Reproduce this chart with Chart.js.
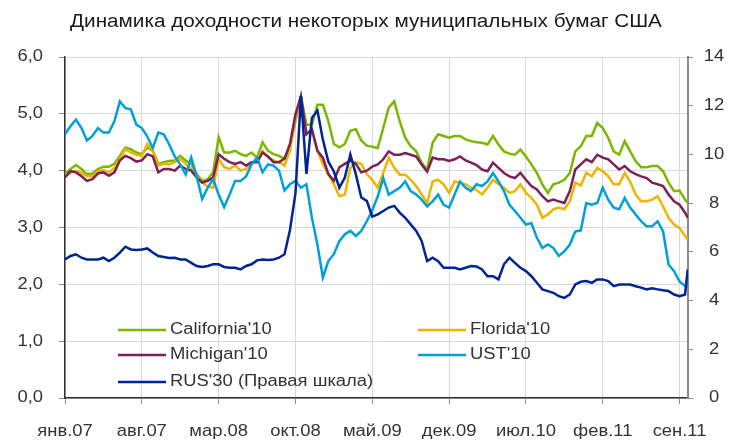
<!DOCTYPE html>
<html>
<head>
<meta charset="utf-8">
<script src="https://cdn.jsdelivr.net/npm/chart.js@4.4.0/dist/chart.umd.min.js"></script>
<style>
    html, body { margin: 0; padding: 0; background: #fff; }
    #wrap { width: 747px; height: 444px; position: relative; }
</style>
</head>
<body>
<div id="wrap"><canvas id="yieldChart"></canvas></div>
<script>
// months since 1 Jan 2007 (roughly two readings per month)
var months = [
    0, 0.5, 1, 1.5, 2, 2.5, 3, 3.5, 4, 4.5,
    5, 5.5, 6, 6.5, 7, 7.5, 8, 8.5, 9, 9.5,
    10, 10.5, 11, 11.5, 12, 12.5, 13, 13.5, 14, 14.5,
    15, 15.5, 16, 16.5, 17, 17.5, 18, 18.5, 19, 19.5,
    20, 20.5, 21, 21.5, 22, 22.5, 23, 23.5, 24, 24.5,
    25, 25.5, 26, 26.5, 27, 27.5, 28, 28.5, 29, 29.5,
    30, 30.5, 31, 31.5, 32, 32.5, 33, 33.5, 34, 34.5,
    35, 35.5, 36, 36.5, 37, 37.5, 38, 38.5, 39, 39.5,
    40, 40.5, 41, 41.5, 42, 42.5, 43, 43.5, 44, 44.5,
    45, 45.5, 46, 46.5, 47, 47.5, 48, 48.5, 49, 49.5,
    50, 50.5, 51, 51.5, 52, 52.5, 53, 53.5, 54, 54.5,
    55, 55.5, 56, 56.5, 56.75
];

var tickMonths = [0, 7, 14, 21, 28, 35, 42, 49, 56];
var tickLabels = ["янв.07", "авг.07", "мар.08", "окт.08", "май.09", "дек.09", "июл.10", "фев.11", "сен.11"];
var leftTicks = [0, 1, 2, 3, 4, 5, 6];
var rightTicks = [0, 2, 4, 6, 8, 10, 12, 14];

var california10 = [
    3.95, 4.03, 4.10, 4.03, 3.94, 3.95, 4.03, 4.07, 4.07, 4.12,
    4.26, 4.41, 4.38, 4.32, 4.29, 4.41, 4.35, 4.12, 4.15, 4.17,
    4.18, 4.26, 4.18, 4.12, 3.94, 3.82, 3.85, 3.97, 4.59, 4.32,
    4.32, 4.35, 4.29, 4.26, 4.32, 4.23, 4.50, 4.35, 4.29, 4.26,
    4.21, 4.41, 4.87, 5.31, 4.81, 4.81, 5.16, 5.16, 4.87, 4.47,
    4.41, 4.47, 4.70, 4.73, 4.53, 4.44, 4.42, 4.40, 4.75, 5.11,
    5.22, 4.87, 4.58, 4.43, 4.34, 4.14, 4.02, 4.49, 4.64, 4.61,
    4.58, 4.61, 4.61, 4.55, 4.52, 4.50, 4.49, 4.46, 4.61, 4.46,
    4.34, 4.30, 4.28, 4.37, 4.25, 4.11, 3.96, 3.76, 3.61, 3.76,
    3.79, 3.84, 3.96, 4.34, 4.43, 4.61, 4.61, 4.84, 4.75, 4.58,
    4.34, 4.28, 4.52, 4.34, 4.17, 4.06, 4.06, 4.08, 4.08, 3.99,
    3.79, 3.64, 3.65, 3.49, 3.43
];

var florida10 = [
    3.91, 3.96, 4.00, 3.96, 3.90, 3.90, 3.99, 4.01, 3.97, 4.05,
    4.20, 4.38, 4.32, 4.28, 4.26, 4.47, 4.35, 4.09, 4.12, 4.11,
    4.15, 4.21, 4.12, 4.03, 3.91, 3.79, 3.72, 3.70, 4.21, 4.06,
    4.03, 4.09, 4.00, 4.03, 4.12, 4.21, 4.35, 4.23, 4.18, 4.15,
    4.09, 4.35, 4.93, 5.22, 4.64, 4.70, 4.35, 4.12, 3.94, 3.76,
    3.55, 3.58, 4.05, 4.15, 4.12, 3.94, 3.84, 3.70, 3.96, 4.23,
    4.05, 3.93, 3.93, 3.84, 3.73, 3.58, 3.43, 3.81, 3.84, 3.76,
    3.61, 3.81, 3.79, 3.76, 3.70, 3.66, 3.58, 3.70, 3.84, 3.76,
    3.70, 3.61, 3.64, 3.76, 3.61, 3.52, 3.40, 3.17, 3.23, 3.32,
    3.35, 3.32, 3.46, 3.79, 3.74, 3.96, 3.90, 4.05, 3.99, 3.90,
    3.76, 3.76, 3.96, 3.81, 3.58, 3.46, 3.46, 3.49, 3.55, 3.37,
    3.17, 3.05, 2.99, 2.85, 2.79
];

var michigan10 = [
    3.88, 3.99, 3.97, 3.90, 3.82, 3.85, 3.95, 3.97, 3.91, 3.97,
    4.18, 4.26, 4.22, 4.16, 4.18, 4.29, 4.25, 3.97, 4.03, 4.03,
    4.00, 4.09, 4.03, 4.00, 3.88, 3.79, 3.82, 3.88, 4.29, 4.21,
    4.15, 4.12, 4.15, 4.09, 4.15, 4.15, 4.32, 4.25, 4.15, 4.15,
    4.21, 4.47, 4.99, 5.31, 4.64, 4.73, 4.35, 4.23, 3.94, 3.82,
    4.06, 4.12, 4.18, 4.12, 3.97, 4.00, 4.07, 4.11, 4.20, 4.34,
    4.28, 4.28, 4.31, 4.28, 4.25, 4.11, 3.98, 4.23, 4.20, 4.20,
    4.17, 4.20, 4.25, 4.18, 4.14, 4.10, 4.02, 3.99, 4.14, 4.05,
    3.96, 3.90, 3.87, 3.96, 3.84, 3.73, 3.67, 3.55, 3.46, 3.49,
    3.46, 3.43, 3.64, 4.02, 4.11, 4.20, 4.15, 4.28, 4.23, 4.20,
    4.11, 4.02, 4.08, 3.99, 3.94, 3.90, 3.87, 3.79, 3.76, 3.73,
    3.58, 3.46, 3.40, 3.26, 3.17
];

var ust10 = [
    4.64, 4.78, 4.90, 4.75, 4.53, 4.61, 4.75, 4.67, 4.67, 4.87,
    5.22, 5.10, 5.08, 4.81, 4.75, 4.60, 4.40, 4.67, 4.64, 4.46,
    4.25, 4.11, 3.93, 4.23, 3.90, 3.50, 3.70, 3.85, 3.58, 3.36,
    3.58, 3.82, 3.82, 3.90, 4.11, 4.23, 3.97, 4.11, 4.09, 4.00,
    3.65, 3.76, 3.82, 3.70, 3.76, 3.17, 2.70, 2.12, 2.41, 2.53,
    2.76, 2.88, 2.94, 2.85, 2.94, 3.11, 3.30, 3.55, 3.87, 3.58,
    3.64, 3.70, 3.81, 3.64, 3.58, 3.49, 3.37, 3.46, 3.58, 3.40,
    3.35, 3.58, 3.81, 3.70, 3.64, 3.76, 3.73, 3.81, 3.96, 3.81,
    3.64, 3.40, 3.29, 3.17, 3.05, 3.08, 2.82, 2.64, 2.70, 2.64,
    2.50, 2.58, 2.70, 2.93, 2.95, 3.43, 3.40, 3.43, 3.70, 3.49,
    3.35, 3.32, 3.52, 3.35, 3.23, 3.11, 3.02, 3.02, 3.11, 2.93,
    2.35, 2.23, 2.05, 1.97, 1.95
];

// right-hand scale
var rus30 = [
    5.69, 5.83, 5.90, 5.76, 5.69, 5.69, 5.69, 5.76, 5.62, 5.76,
    5.97, 6.21, 6.10, 6.08, 6.10, 6.14, 5.97, 5.83, 5.79, 5.75,
    5.76, 5.69, 5.69, 5.55, 5.42, 5.38, 5.42, 5.49, 5.49, 5.38,
    5.35, 5.35, 5.28, 5.42, 5.49, 5.65, 5.69, 5.67, 5.69, 5.76,
    5.90, 6.90, 8.40, 12.40, 9.20, 11.50, 11.80, 10.60, 9.70, 9.30,
    8.64, 9.05, 10.00, 9.19, 8.23, 8.09, 7.45, 7.54, 7.68, 7.82,
    7.89, 7.61, 7.40, 7.13, 6.86, 6.45, 5.62, 5.76, 5.62, 5.35,
    5.35, 5.35, 5.28, 5.35, 5.42, 5.40, 5.28, 5.00, 5.00, 4.87,
    5.49, 5.76, 5.55, 5.35, 5.21, 5.00, 4.73, 4.46, 4.39, 4.32,
    4.18, 4.11, 4.25, 4.66, 4.77, 4.80, 4.73, 4.87, 4.87, 4.80,
    4.59, 4.66, 4.66, 4.66, 4.59, 4.53, 4.46, 4.50, 4.46, 4.42,
    4.39, 4.25, 4.18, 4.25, 5.28
];

var FONT = "'Liberation Sans', Arial, sans-serif";
var TEXT = "#333333";

function toPoints(values) {
    return values.map(function (v, i) {
        return { x: months[i], y: v };
    });
}

function series(label, values, color, axis, order) {
    return {
        label: label,
        data: toPoints(values),
        borderColor: color,
        backgroundColor: color,
        borderWidth: 2.5,
        pointRadius: 0,
        tension: 0,
        yAxisID: axis,
        order: order
    };
}

// the original picture has slightly wide lettering, so text is drawn stretched
function wideText(ctx, text, x, y, align, size, sx, color) {
    ctx.save();
    ctx.translate(x, y);
    ctx.scale(sx, 1);
    ctx.font = size + "px " + FONT;
    ctx.fillStyle = color || TEXT;
    ctx.textAlign = align;
    ctx.textBaseline = "middle";
    ctx.fillText(text, 0, 0);
    ctx.restore();
}

var labelPlugin = {
    id: "axisLabels",
    afterDraw: function (chart) {
        var ctx = chart.ctx;
        var sx = chart.scales.x, sy = chart.scales.y, sy2 = chart.scales.y2;
        tickMonths.forEach(function (m, i) {
            wideText(ctx, tickLabels[i], sx.getPixelForValue(m), 432, "center", 16, 1.15);
        });
        leftTicks.forEach(function (v) {
            wideText(ctx, v.toFixed(1).replace(".", ","), 43, sy.getPixelForValue(v), "right", 16, 1.15);
        });
        rightTicks.forEach(function (v) {
            wideText(ctx, String(v), 714, sy2.getPixelForValue(v), "center", 16, 1.15);
        });
        wideText(ctx, "Динамика доходности некоторых муниципальных бумаг США", 366, 22, "center", 18, 1.15, "#1a1a1a");
    }
};

// legend drawn inside the plot, two columns like the original
var legendPlugin = {
    id: "innerLegend",
    afterDraw: function (chart) {
        var ctx = chart.ctx;
        var spots = {
            "California'10": [118, 330],
            "Florida'10": [418, 330],
            "Michigan'10": [118, 355],
            "UST'10": [418, 355],
            "RUS'30 (Правая шкала)": [118, 382]
        };
        chart.data.datasets.forEach(function (ds) {
            var p = spots[ds.label];
            ctx.save();
            ctx.strokeStyle = ds.borderColor;
            ctx.lineWidth = 2.5;
            ctx.beginPath();
            ctx.moveTo(p[0], p[1]);
            ctx.lineTo(p[0] + 48, p[1]);
            ctx.stroke();
            ctx.restore();
            wideText(ctx, ds.label, p[0] + 52, p[1], "left", 16, 1.15);
        });
    }
};

var ctx = document.getElementById("yieldChart");
new Chart(ctx, {
    type: "line",
    data: {
        datasets: [
            series("California'10", california10, "#7ab800", "y", 4),
            series("Florida'10", florida10, "#f0b400", "y", 3),
            series("Michigan'10", michigan10, "#7b2059", "y", 2),
            series("UST'10", ust10, "#00a0dc", "y", 1),
            series("RUS'30 (Правая шкала)", rus30, "#002395", "y2", 0)
        ]
    },
    options: {
        responsive: true,
        maintainAspectRatio: false,
        animation: false,
        layout: { padding: { top: 57, left: 0, right: 0, bottom: 0 } },
        plugins: {
            legend: { display: false },
            tooltip: { enabled: false }
        },
        scales: {
            x: {
                type: "linear",
                min: 0,
                max: 56.77,
                afterBuildTicks: function (scale) {
                    scale.ticks = tickMonths.map(function (m) { return { value: m }; });
                },
                afterFit: function (scale) { scale.height = 46; },
                ticks: { display: false },
                grid: { color: "#d9d9d9", tickLength: 6, tickColor: "#8c8c8c" },
                border: { color: "#333333", width: 1.5 }
            },
            y: {
                position: "left",
                min: 0,
                max: 6,
                afterBuildTicks: function (scale) {
                    scale.ticks = leftTicks.map(function (v) { return { value: v }; });
                },
                afterFit: function (scale) { scale.width = 65; },
                ticks: { display: false },
                grid: { color: "#d9d9d9", tickLength: 6, tickColor: "#8c8c8c" },
                border: { color: "#333333", width: 1.5 }
            },
            y2: {
                position: "right",
                min: 0,
                max: 14,
                afterBuildTicks: function (scale) {
                    scale.ticks = rightTicks.map(function (v) { return { value: v }; });
                },
                afterFit: function (scale) { scale.width = 59; },
                ticks: { display: false },
                grid: { drawOnChartArea: false, tickLength: 5, tickColor: "#8c8c8c" },
                border: { color: "#8c8c8c", width: 2 }
            }
        }
    },
    plugins: [legendPlugin, labelPlugin]
});
</script>
</body>
</html>
